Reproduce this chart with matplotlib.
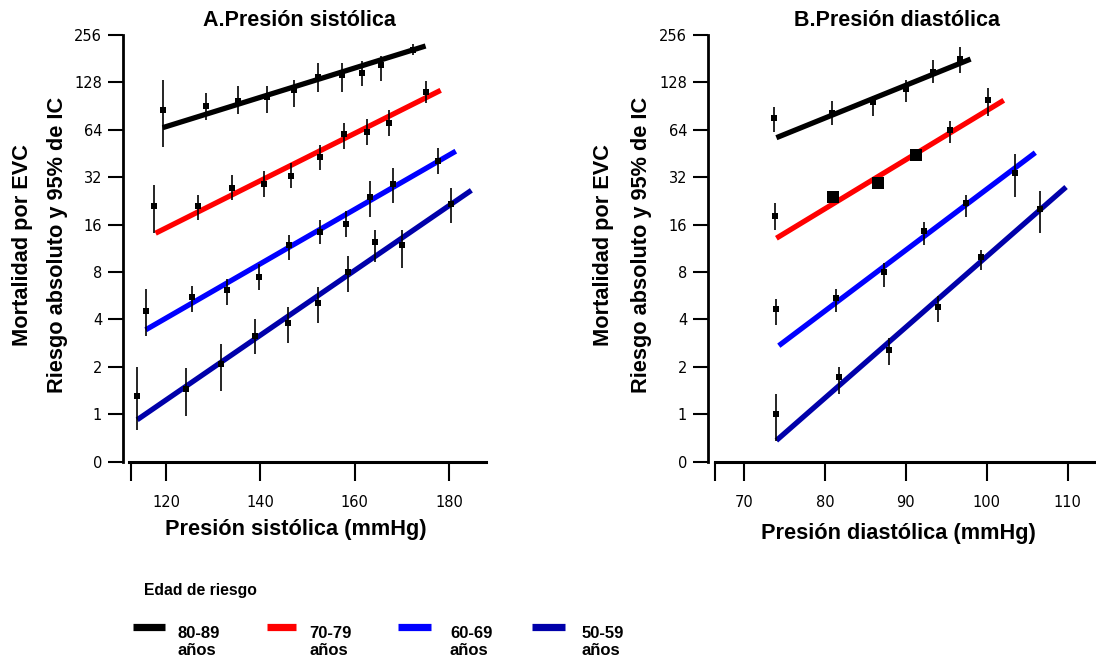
import matplotlib
matplotlib.use("Agg")
import matplotlib.pyplot as plt
from matplotlib.lines import Line2D

# ---------------- data ----------------
groups = ["80-89\naños", "70-79\naños", "60-69\naños", "50-59\naños"]
colors = ["#000000", "#ff0000", "#0000ff", "#0000aa"]

y_ticks = [0.5, 1, 2, 4, 8, 16, 32, 64, 128, 256]
y_tick_labels = ["0", "1", "2", "4", "8", "16", "32", "64", "128", "256"]

# Panel A: systolic
sys_x = [
    [119.3, 128.5, 135.2, 141.5, 147.1, 152.3, 157.4, 161.6, 165.5, 172.3],
    [117.5, 126.8, 134.0, 140.8, 146.5, 152.7, 157.7, 162.6, 167.2, 175.1],
    [115.7, 125.6, 132.9, 139.7, 146.0, 152.6, 158.2, 163.3, 168.1, 177.7],
    [113.9, 124.2, 131.6, 138.8, 145.8, 152.3, 158.6, 164.2, 169.9, 180.4],
]
sys_y = [
    [86, 90, 98, 104, 114, 139, 142, 147, 164, 207],
    [21, 21, 27.5, 29, 32.7, 42.8, 60, 62, 71, 112],
    [4.54, 5.58, 6.15, 7.4, 11.8, 14.4, 16.2, 23.8, 29.0, 40.8],
    [1.30, 1.44, 2.07, 3.15, 3.78, 5.06, 8.0, 12.4, 11.9, 21.7],
]
sys_lo = [
    [50, 74, 81, 82, 89, 112, 112, 121, 130, 190],
    [14.1, 17.2, 23.0, 24.1, 27.3, 35.7, 48.4, 51.6, 58.7, 95],
    [3.14, 4.48, 4.94, 6.1, 9.55, 12.1, 13.3, 18.0, 21.9, 33.7],
    [0.79, 0.97, 1.40, 2.40, 2.82, 3.81, 6.0, 9.3, 8.5, 16.3],
]
sys_hi = [
    [132, 109, 121, 121, 132, 170, 170, 175, 187, 226],
    [28.6, 24.7, 33.2, 34.8, 39.4, 51.6, 70.8, 74.4, 86, 130],
    [6.22, 6.5, 7.2, 9.0, 13.8, 17.2, 19.4, 30.1, 36.6, 49.1],
    [2.0, 1.95, 2.78, 4.02, 4.78, 6.4, 10.1, 14.8, 14.8, 27.3],
]
sys_fit_x = [[119.3, 175.0], [117.8, 178.2], [115.7, 181.4], [113.9, 184.7]]
sys_fit_y = [[66, 218], [14.1, 114], [3.43, 46.8], [0.92, 26.4]]

# Panel B: diastolic
dia_x = [
    [73.7, 80.9, 86.0, 90.0, 93.4, 96.7],
    [73.8, 81.0, 86.5, 91.2, 95.4, 100.2],
    [74.0, 81.4, 87.3, 92.3, 97.4, 103.5],
    [74.0, 81.7, 87.9, 94.0, 99.3, 106.6],
]
dia_y = [
    [76, 82, 95.5, 116, 149, 180],
    [18.1, 24.1, 29.5, 44.5, 63.5, 98.5],
    [4.66, 5.45, 8.0, 14.5, 21.9, 34.0],
    [1.0, 1.73, 2.55, 4.78, 9.9, 20.0],
]
dia_lo = [
    [61.7, 69, 78, 96, 127, 147],
    [14.8, 24.1, 29.5, 44.5, 53, 78],
    [3.68, 4.47, 6.4, 11.9, 18.0, 23.9],
    [0.67, 1.35, 2.05, 3.87, 8.2, 14.1],
]
dia_hi = [
    [89.5, 97, 105, 132, 177, 214],
    [21.8, 24.1, 29.5, 44.5, 72.5, 118],
    [5.36, 6.2, 9.1, 16.5, 24.8, 44.6],
    [1.35, 2.0, 3.03, 5.63, 11.1, 26],
]
dia_big = [
    [False] * 6,
    [False, True, True, True, False, False],
    [False] * 6,
    [False] * 6,
]
dia_fit_x = [[74.0, 98.0], [74.0, 102.1], [74.3, 106.0], [74.0, 109.8]]
dia_fit_y = [[57, 180], [13.1, 98.5], [2.72, 45.8], [0.68, 27.7]]

sys_ticks = [112.6, 120, 140, 160, 180]
sys_tick_labels = ["", "120", "140", "160", "180"]
dia_ticks = [66.4, 70, 80, 90, 100, 110]
dia_tick_labels = ["", "70", "80", "90", "100", "110"]

# ---------------- figure ----------------
W, H = 1096, 661
fig = plt.figure(figsize=(W / 100, H / 100), dpi=100)
BOLD = ["Liberation Sans", "DejaVu Sans"]


def px_rect(x0, x1, y0, y1):
    return [x0 / W, 1 - y1 / H, (x1 - x0) / W, (y1 - y0) / H]


def setup(ax, xlim, xbounds, ticks, labels):
    ax.set_yscale("log", base=2)
    ax.set_ylim(0.5, 256)
    ax.set_xlim(*xlim)
    for s in ("top", "right"):
        ax.spines[s].set_visible(False)
    ax.spines["left"].set_linewidth(2.0)
    ax.spines["bottom"].set_linewidth(2.2)
    ax.spines["bottom"].set_bounds(*xbounds)
    ax.set_yticks(y_ticks)
    ax.set_yticklabels(y_tick_labels)
    ax.yaxis.set_minor_locator(matplotlib.ticker.NullLocator())
    ax.set_xticks(ticks)
    ax.set_xticklabels(labels)
    ax.tick_params(axis="y", length=11, width=1.5, pad=4, labelsize=10.5)
    ax.tick_params(axis="x", length=14, width=1.5, pad=10, labelsize=10.5)
    ax.patch.set_alpha(0)


def draw(ax, xs, ys, los, his, fx, fy, big=None):
    for i in range(4):
        ax.plot(fx[i], fy[i], color=colors[i], lw=3.8, solid_capstyle="butt", zorder=2)
    for i in range(4):
        yerr = [[y - l for y, l in zip(ys[i], los[i])], [h - y for y, h in zip(ys[i], his[i])]]
        ax.errorbar(xs[i], ys[i], yerr=yerr, fmt="none", ecolor="black", elinewidth=1.2, capsize=0, zorder=3)
        for j in range(len(xs[i])):
            ms = 8 if (big is not None and big[i][j]) else 5
            ax.plot(xs[i][j], ys[i][j], marker="s", color="black", ms=ms, mew=0, zorder=4)


axA = fig.add_axes(px_rect(123, 486, 35, 461.5))
setup(axA, (110.9, 187.8), (112.2, 187.8), sys_ticks, sys_tick_labels)
draw(axA, sys_x, sys_y, sys_lo, sys_hi, sys_fit_x, sys_fit_y)

axB = fig.add_axes(px_rect(708, 1096, 35, 461.5))
setup(axB, (65.55, 113.5), (66.4, 113.5), dia_ticks, dia_tick_labels)
draw(axB, dia_x, dia_y, dia_lo, dia_hi, dia_fit_x, dia_fit_y, dia_big)


def ftext(x, y, s, **kw):
    fig.text(x / W, 1 - y / H, s, family=BOLD, fontweight="bold", **kw)


# titles
ftext(299, 21, "A.Presión sistólica", fontsize=15.5, ha="center", va="center")
ftext(897, 21, "B.Presión diastólica", fontsize=15.5, ha="center", va="center")
# x labels
ftext(296, 530, "Presión sistólica (mmHg)", fontsize=15.7, ha="center", va="center")
ftext(898, 533, "Presión diastólica (mmHg)", fontsize=15.7, ha="center", va="center")
# y labels
for x1, x2 in ((23, 57), (604, 641)):
    ftext(x1, 245, "Mortalidad por EVC", fontsize=15.7, rotation=90, ha="center", va="center")
    ftext(x2, 245, "Riesgo absoluto y 95% de IC", fontsize=15.7, rotation=90, ha="center", va="center")

# legend
ftext(144, 591, "Edad de riesgo", fontsize=11.3, ha="left", va="center")
bar_x = [(133, 165), (267, 296), (398, 431), (532, 565)]
lab_x = [178, 309, 450, 582]
for i in range(4):
    x0, x1 = bar_x[i]
    fig.add_artist(Line2D([x0 / W, x1 / W], [1 - 627 / H, 1 - 627 / H], color=colors[i],
                          lw=5.2, solid_capstyle="butt"))
    ftext(lab_x[i], 642, groups[i], fontsize=12, ha="left", va="center", linespacing=1.1)

fig.savefig("out.png", dpi=100)
